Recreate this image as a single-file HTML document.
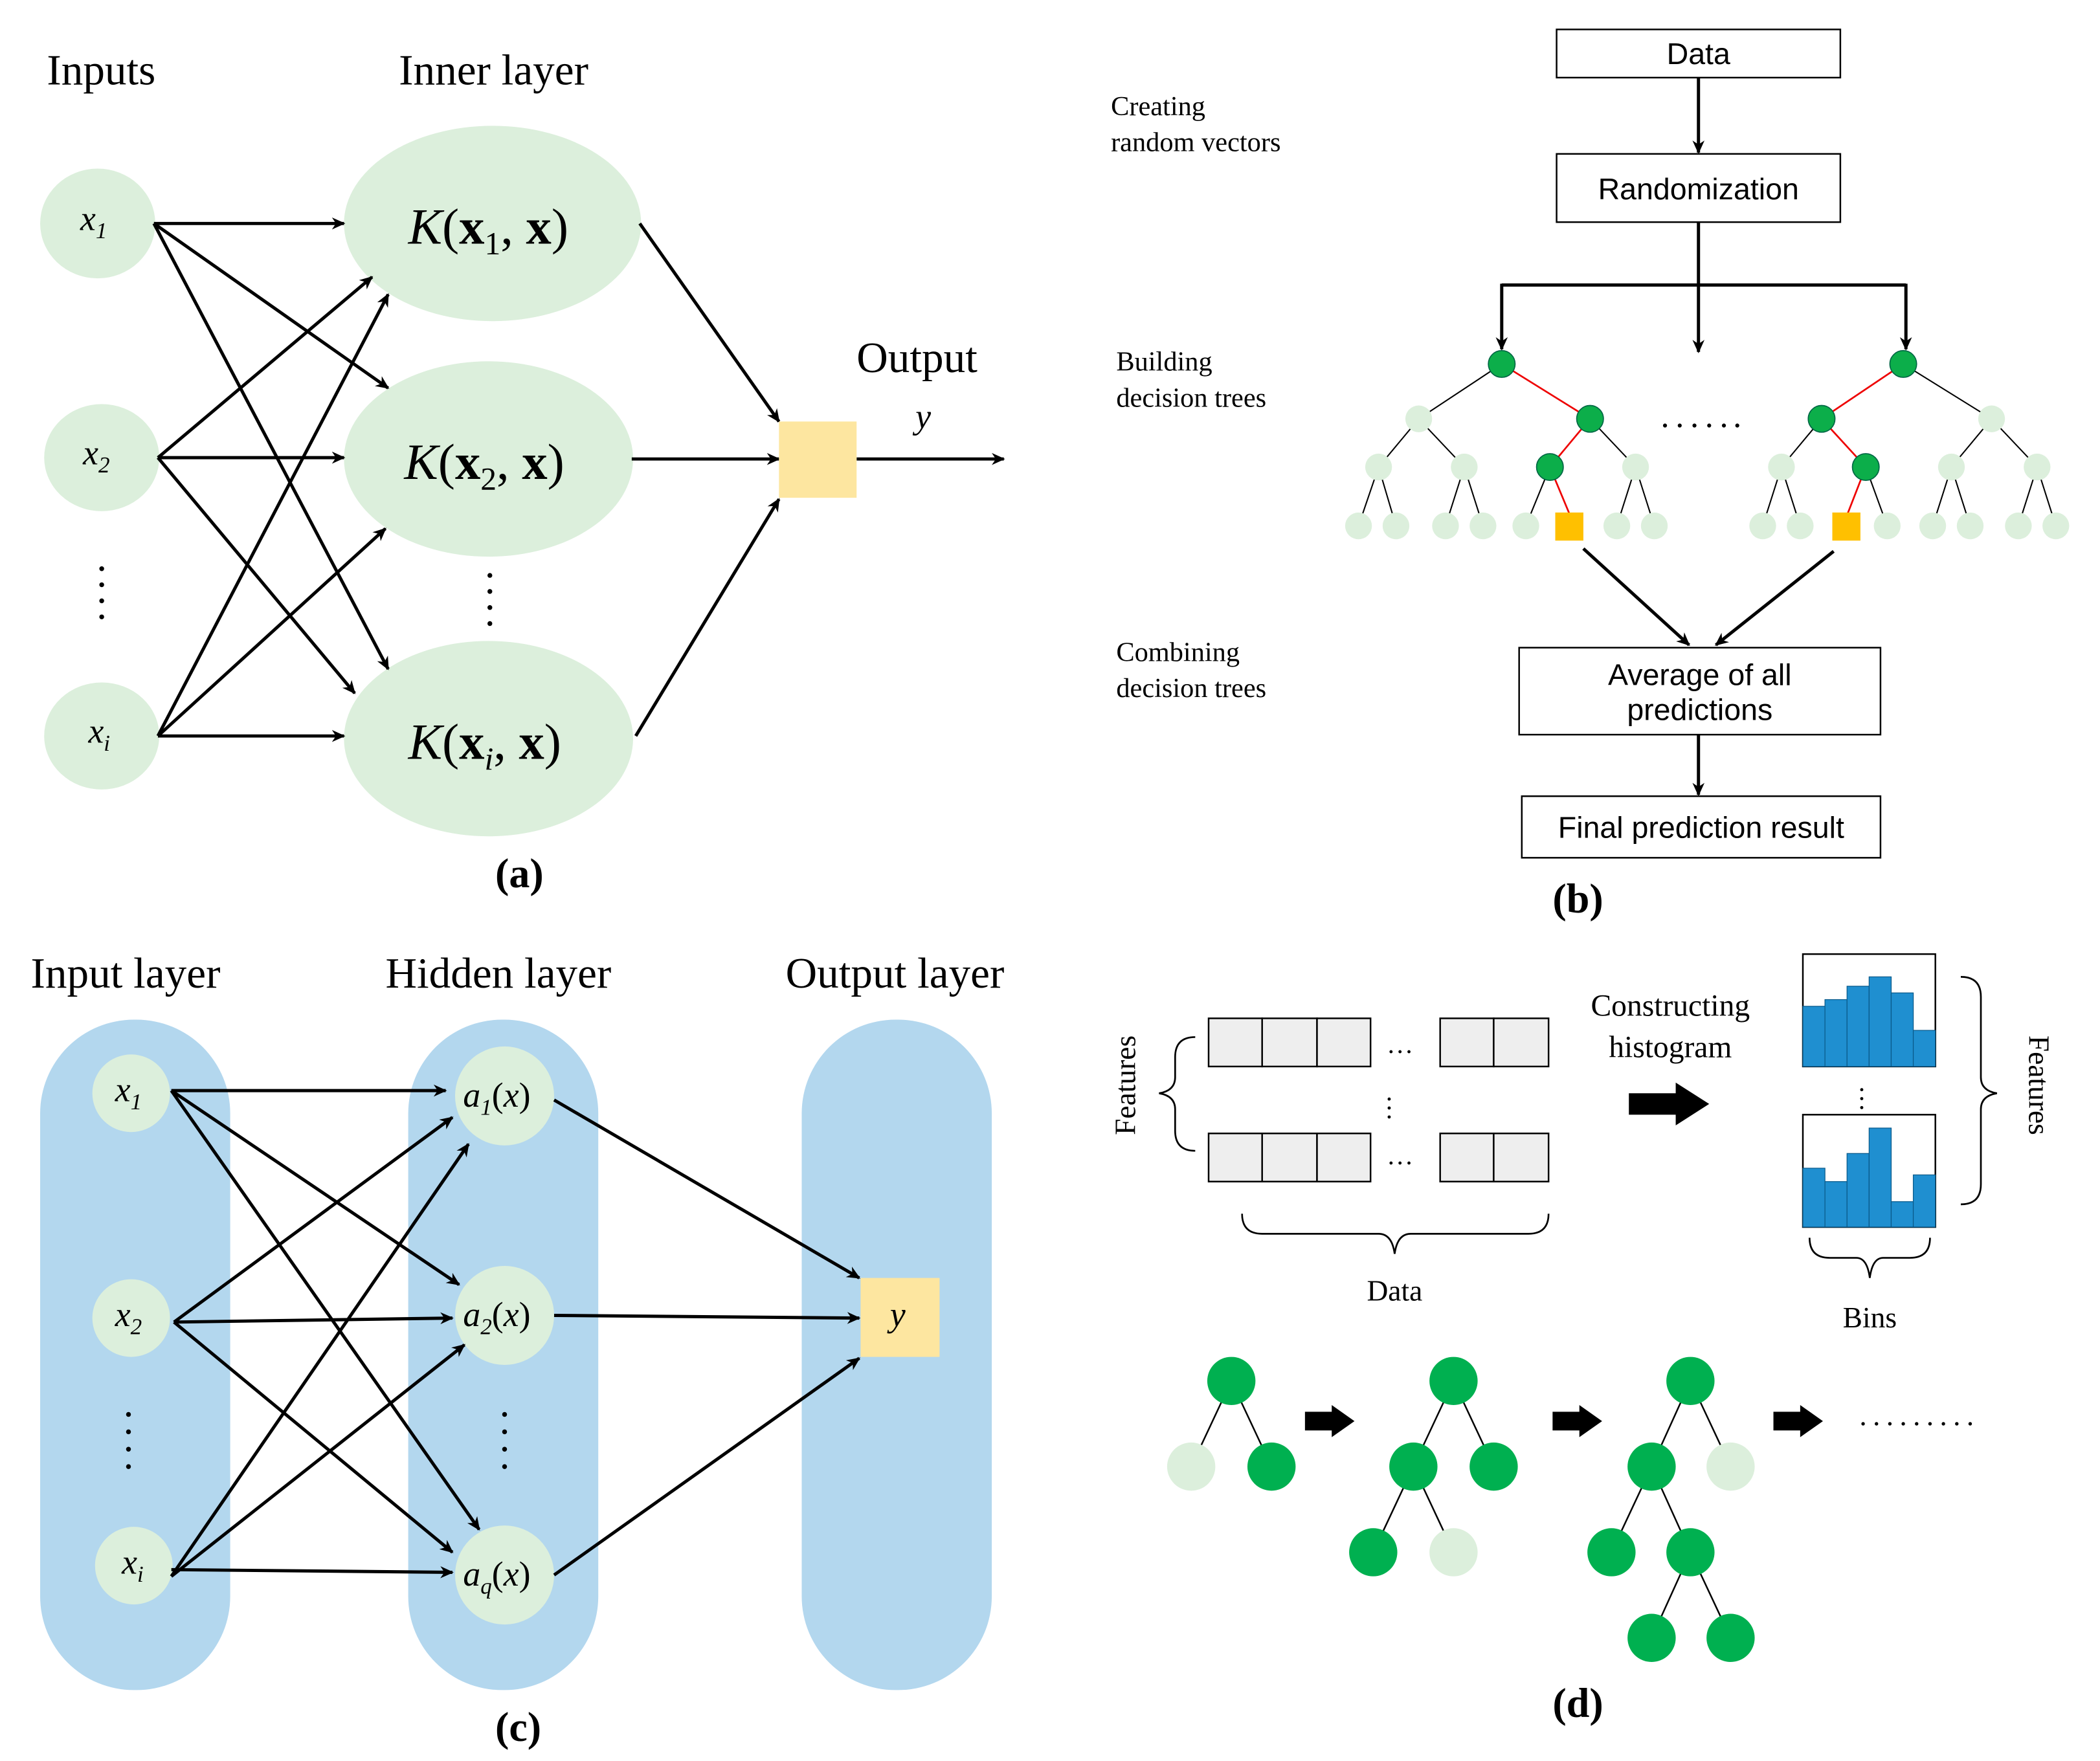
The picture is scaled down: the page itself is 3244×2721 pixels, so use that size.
<!DOCTYPE html>
<html><head><meta charset="utf-8"><style>
html,body{margin:0;padding:0;background:#fff}
svg{display:block}
text{font-family:"Liberation Serif",serif;fill:#000}
.s{font-family:"Liberation Sans","DejaVu Sans",sans-serif}
</style></head><body>
<svg width="3244" height="2721" viewBox="0 0 1569 1316" preserveAspectRatio="none" xmlns="http://www.w3.org/2000/svg">
<defs>
<marker id="ar" markerWidth="10" markerHeight="10" refX="9" refY="5" orient="auto" markerUnits="userSpaceOnUse"><path d="M0,0.5 L10,5 L0,9.5 L3,5 Z" fill="#000"/></marker>
</defs>

<!-- Panel a -->
<text x="35" y="63" font-size="32.5">Inputs</text>
<text x="298" y="63" font-size="32.5">Inner layer</text>
<g fill="#dcefdc">
<ellipse cx="73" cy="167" rx="43" ry="41"/>
<ellipse cx="76" cy="342" rx="43" ry="40"/>
<ellipse cx="76" cy="550" rx="43" ry="40"/>
<ellipse cx="368" cy="167" rx="111" ry="73"/>
<ellipse cx="365" cy="343" rx="108" ry="73"/>
<ellipse cx="365" cy="552" rx="108" ry="73"/>
</g>
<text x="60" y="172" font-size="26" font-style="italic">x<tspan font-size="17" dy="6">1</tspan></text>
<text x="62" y="347" font-size="26" font-style="italic">x<tspan font-size="17" dy="6">2</tspan></text>
<text x="66" y="555" font-size="26" font-style="italic">x<tspan font-size="17" dy="6">i</tspan></text>
<text x="305" y="182" font-size="38"><tspan font-style="italic">K</tspan>(<tspan font-weight="bold">x</tspan><tspan font-size="24" dy="8">1</tspan><tspan dy="-8">, </tspan><tspan font-weight="bold">x</tspan>)</text>
<text x="302" y="358" font-size="38"><tspan font-style="italic">K</tspan>(<tspan font-weight="bold">x</tspan><tspan font-size="24" dy="8">2</tspan><tspan dy="-8">, </tspan><tspan font-weight="bold">x</tspan>)</text>
<text x="305" y="567" font-size="38"><tspan font-style="italic">K</tspan>(<tspan font-weight="bold">x</tspan><tspan font-size="24" dy="8" font-style="italic">i</tspan><tspan dy="-8">, </tspan><tspan font-weight="bold">x</tspan>)</text>
<g fill="#000">
<circle cx="76" cy="425" r="1.8"/><circle cx="76" cy="437" r="1.8"/><circle cx="76" cy="449" r="1.8"/><circle cx="76" cy="461" r="1.8"/>
<circle cx="366" cy="430" r="1.8"/><circle cx="366" cy="442" r="1.8"/><circle cx="366" cy="454" r="1.8"/><circle cx="366" cy="466" r="1.8"/>
</g>
<g stroke="#000" stroke-width="2.4" marker-end="url(#ar)" fill="none">
<line x1="115" y1="167" x2="257" y2="167"/>
<line x1="115" y1="167" x2="290" y2="290"/>
<line x1="115" y1="167" x2="290" y2="500"/>
<line x1="118" y1="342" x2="278" y2="207"/>
<line x1="118" y1="342" x2="257" y2="342"/>
<line x1="118" y1="342" x2="265" y2="518"/>
<line x1="118" y1="550" x2="290" y2="220"/>
<line x1="118" y1="550" x2="288" y2="395"/>
<line x1="118" y1="550" x2="257" y2="550"/>
<line x1="478" y1="167" x2="582" y2="315"/>
<line x1="472" y1="343" x2="582" y2="343"/>
<line x1="475" y1="550" x2="582" y2="373"/>
<line x1="640" y1="343" x2="750" y2="343"/>
</g>
<rect x="582" y="315" width="58" height="57" fill="#fde6a0"/>
<text x="640" y="278" font-size="32.5">Output</text>
<text x="684" y="320" font-size="26" font-style="italic">y</text>
<text x="370" y="663" font-size="31" font-weight="bold">(a)</text>

<!-- Panel b -->
<g font-size="20.5">
<text x="830" y="86">Creating</text><text x="830" y="113">random vectors</text>
<text x="834" y="277">Building</text><text x="834" y="304">decision trees</text>
<text x="834" y="494">Combining</text><text x="834" y="521">decision trees</text>
</g>
<g fill="#fff" stroke="#000" stroke-width="1.2">
<rect x="1163" y="22" width="212" height="36"/>
<rect x="1163" y="115" width="212" height="51"/>
<rect x="1135" y="484" width="270" height="65"/>
<rect x="1137" y="595" width="268" height="46"/>
</g>
<g font-size="22.5" text-anchor="middle">
<text class="s" x="1269" y="48">Data</text>
<text class="s" x="1269" y="149">Randomization</text>
<text class="s" x="1270" y="512">Average of all</text>
<text class="s" x="1270" y="538">predictions</text>
<text class="s" x="1271" y="626">Final prediction result</text>
</g>
<g stroke="#000" stroke-width="2.4" fill="none">
<line x1="1269" y1="58" x2="1269" y2="114" marker-end="url(#ar)"/>
<polyline points="1269,166 1269,213"/>
<polyline points="1122,213 1424,213"/>
<polyline points="1122,212 1122,261" marker-end="url(#ar)"/>
<polyline points="1269,213 1269,263" marker-end="url(#ar)"/>
<polyline points="1424,212 1424,261" marker-end="url(#ar)"/>
<line x1="1183" y1="410" x2="1262" y2="482" marker-end="url(#ar)"/>
<line x1="1370" y1="412" x2="1282" y2="482" marker-end="url(#ar)"/>
<line x1="1269" y1="549" x2="1269" y2="594" marker-end="url(#ar)"/>
</g>
<g stroke="#000" stroke-width="1">
<line x1="1122" y1="272" x2="1060" y2="313"/>
<line x1="1060" y1="313" x2="1030" y2="349"/><line x1="1060" y1="313" x2="1094" y2="349"/>
<line x1="1188" y1="313" x2="1222" y2="349"/>
<line x1="1030" y1="349" x2="1015" y2="393"/><line x1="1030" y1="349" x2="1043" y2="393"/>
<line x1="1094" y1="349" x2="1080" y2="393"/><line x1="1094" y1="349" x2="1108" y2="393"/>
<line x1="1158" y1="349" x2="1140" y2="393"/>
<line x1="1222" y1="349" x2="1208" y2="393"/><line x1="1222" y1="349" x2="1236" y2="393"/>
<line x1="1422" y1="272" x2="1488" y2="313"/>
<line x1="1361" y1="313" x2="1331" y2="349"/>
<line x1="1488" y1="313" x2="1458" y2="349"/><line x1="1488" y1="313" x2="1522" y2="349"/>
<line x1="1331" y1="349" x2="1317" y2="393"/><line x1="1331" y1="349" x2="1345" y2="393"/>
<line x1="1394" y1="349" x2="1410" y2="393"/>
<line x1="1458" y1="349" x2="1444" y2="393"/><line x1="1458" y1="349" x2="1472" y2="393"/>
<line x1="1522" y1="349" x2="1508" y2="393"/><line x1="1522" y1="349" x2="1536" y2="393"/>
</g>
<g stroke="#e00" stroke-width="1.3">
<line x1="1122" y1="272" x2="1188" y2="313"/><line x1="1188" y1="313" x2="1158" y2="349"/><line x1="1158" y1="349" x2="1173" y2="385"/>
<line x1="1422" y1="272" x2="1361" y2="313"/><line x1="1361" y1="313" x2="1394" y2="349"/><line x1="1394" y1="349" x2="1380" y2="385"/>
</g>
<g fill="#dcefdc">
<circle cx="1060" cy="313" r="10"/><circle cx="1030" cy="349" r="10"/><circle cx="1094" cy="349" r="10"/><circle cx="1222" cy="349" r="10"/>
<circle cx="1015" cy="393" r="10"/><circle cx="1043" cy="393" r="10"/><circle cx="1080" cy="393" r="10"/><circle cx="1108" cy="393" r="10"/>
<circle cx="1140" cy="393" r="10"/><circle cx="1208" cy="393" r="10"/><circle cx="1236" cy="393" r="10"/>
<circle cx="1488" cy="313" r="10"/><circle cx="1331" cy="349" r="10"/><circle cx="1458" cy="349" r="10"/><circle cx="1522" cy="349" r="10"/>
<circle cx="1317" cy="393" r="10"/><circle cx="1345" cy="393" r="10"/><circle cx="1410" cy="393" r="10"/>
<circle cx="1444" cy="393" r="10"/><circle cx="1472" cy="393" r="10"/><circle cx="1508" cy="393" r="10"/><circle cx="1536" cy="393" r="10"/>
</g>
<g fill="#0cae4a" stroke="#064" stroke-width="0.8">
<circle cx="1122" cy="272" r="10"/><circle cx="1188" cy="313" r="10"/><circle cx="1158" cy="349" r="10"/>
<circle cx="1422" cy="272" r="10"/><circle cx="1361" cy="313" r="10"/><circle cx="1394" cy="349" r="10"/>
</g>
<rect x="1162" y="383" width="21" height="21" fill="#ffc000"/>
<rect x="1369" y="383" width="21" height="21" fill="#ffc000"/>
<g fill="#000"><circle cx="1244" cy="318" r="1.5"/><circle cx="1255" cy="318" r="1.5"/><circle cx="1266" cy="318" r="1.5"/><circle cx="1277" cy="318" r="1.5"/><circle cx="1288" cy="318" r="1.5"/><circle cx="1298" cy="318" r="1.5"/></g>
<text x="1160" y="682" font-size="31" font-weight="bold">(b)</text>

<!-- Panel c -->
<g fill="#b3d7ee">
<rect x="30" y="762" width="142" height="501" rx="70"/>
<rect x="305" y="762" width="142" height="501" rx="70"/>
<rect x="599" y="762" width="142" height="501" rx="70"/>
</g>
<g font-size="32.5">
<text x="23" y="738">Input layer</text><text x="288" y="738">Hidden layer</text><text x="587" y="738">Output layer</text>
</g>
<g fill="#dcefdc">
<circle cx="98" cy="817" r="29"/><circle cx="98" cy="985" r="29"/><circle cx="100" cy="1170" r="29"/>
<circle cx="377" cy="819" r="37"/><circle cx="377" cy="983" r="37"/><circle cx="377" cy="1177" r="37"/>
</g>
<rect x="643" y="955" width="59" height="59" fill="#fde6a0"/>
<g font-size="26" font-style="italic">
<text x="86" y="823">x<tspan font-size="17" dy="6">1</tspan></text>
<text x="86" y="991">x<tspan font-size="17" dy="6">2</tspan></text>
<text x="91" y="1176">x<tspan font-size="17" dy="6">i</tspan></text>
<text x="346" y="827">a<tspan font-size="17" dy="6">1</tspan><tspan dy="-6" font-style="normal">(</tspan>x<tspan font-style="normal">)</tspan></text>
<text x="346" y="991">a<tspan font-size="17" dy="6">2</tspan><tspan dy="-6" font-style="normal">(</tspan>x<tspan font-style="normal">)</tspan></text>
<text x="346" y="1185">a<tspan font-size="17" dy="6">q</tspan><tspan dy="-6" font-style="normal">(</tspan>x<tspan font-style="normal">)</tspan></text>
<text x="665" y="991">y</text>
</g>
<g fill="#000">
<circle cx="96" cy="1057" r="1.8"/><circle cx="96" cy="1070" r="1.8"/><circle cx="96" cy="1083" r="1.8"/><circle cx="96" cy="1096" r="1.8"/>
<circle cx="377" cy="1057" r="1.8"/><circle cx="377" cy="1070" r="1.8"/><circle cx="377" cy="1083" r="1.8"/><circle cx="377" cy="1096" r="1.8"/>
</g>
<g stroke="#000" stroke-width="2.4" marker-end="url(#ar)" fill="none">
<line x1="128" y1="815" x2="333" y2="815"/>
<line x1="128" y1="815" x2="343" y2="960"/>
<line x1="128" y1="815" x2="358" y2="1143"/>
<line x1="130" y1="988" x2="338" y2="835"/>
<line x1="130" y1="988" x2="338" y2="985"/>
<line x1="130" y1="988" x2="338" y2="1160"/>
<line x1="128" y1="1178" x2="350" y2="855"/>
<line x1="128" y1="1178" x2="347" y2="1005"/>
<line x1="128" y1="1173" x2="338" y2="1175"/>
<line x1="414" y1="822" x2="642" y2="955"/>
<line x1="414" y1="983" x2="642" y2="985"/>
<line x1="414" y1="1177" x2="642" y2="1015"/>
</g>
<text x="370" y="1301" font-size="31" font-weight="bold">(c)</text>

<!-- Panel d -->
<g fill="#eee" stroke="#000" stroke-width="1.2">
<rect x="903" y="761" width="40" height="36"/><rect x="943" y="761" width="41" height="36"/><rect x="984" y="761" width="40" height="36"/>
<rect x="1076" y="761" width="40" height="36"/><rect x="1116" y="761" width="41" height="36"/>
<rect x="903" y="847" width="40" height="36"/><rect x="943" y="847" width="41" height="36"/><rect x="984" y="847" width="40" height="36"/>
<rect x="1076" y="847" width="40" height="36"/><rect x="1116" y="847" width="41" height="36"/>
</g>
<g font-size="20">
<text x="1036" y="787">…</text><text x="1036" y="870">…</text>
<text x="1041" y="830" transform="rotate(90 1045 822)">…</text>
<text x="1390" y="825" transform="rotate(90 1397 818)">…</text>
</g>
<g stroke="#000" stroke-width="1.3" fill="none">
<path d="M893,775 Q878,775 878,790 L878,805 Q878,815 866,817 Q878,819 878,829 L878,845 Q878,860 893,860"/>
<path d="M928,907 Q928,922 943,922 L1030,922 Q1040,922 1042,937 Q1044,922 1054,922 L1142,922 Q1157,922 1157,907"/>
<path d="M1465,730 Q1480,730 1480,745 L1480,805 Q1480,815 1492,817 Q1480,819 1480,829 L1480,885 Q1480,900 1465,900"/>
<path d="M1352,925 Q1352,940 1367,940 L1387,940 Q1395,940 1397,955 Q1399,940 1407,940 L1427,940 Q1442,940 1442,925"/>
</g>
<text x="852" y="815" font-size="22" text-anchor="middle" transform="rotate(-90 848 815)">Features</text>
<text x="1512" y="815" font-size="22" text-anchor="middle" transform="rotate(90 1516 815)">Features</text>
<text x="1042" y="972" font-size="22" text-anchor="middle">Data</text>
<text x="1397" y="992" font-size="22" text-anchor="middle">Bins</text>
<text x="1248" y="759" font-size="23" text-anchor="middle">Constructing</text>
<text x="1248" y="790" font-size="23" text-anchor="middle">histogram</text>
<path d="M1217,817 L1252,817 L1252,809 L1277,825 L1252,841 L1252,833 L1217,833 Z" fill="#000"/>
<rect x="1347" y="713" width="99" height="84" fill="#fff" stroke="#000" stroke-width="1.2"/>
<rect x="1347" y="833" width="99" height="84" fill="#fff" stroke="#000" stroke-width="1.2"/>
<g fill="#1f8fd0" stroke="#0a5a8a" stroke-width="0.6">
<rect x="1347" y="752" width="16.5" height="45"/><rect x="1363.5" y="747" width="16.5" height="50"/><rect x="1380" y="737" width="16.5" height="60"/>
<rect x="1396.5" y="730" width="16.5" height="67"/><rect x="1413" y="742" width="16.5" height="55"/><rect x="1429.5" y="770" width="16.5" height="27"/>
<rect x="1347" y="873" width="16.5" height="44"/><rect x="1363.5" y="883" width="16.5" height="34"/><rect x="1380" y="862" width="16.5" height="55"/>
<rect x="1396.5" y="843" width="16.5" height="74"/><rect x="1413" y="898" width="16.5" height="19"/><rect x="1429.5" y="878" width="16.5" height="39"/>
</g>
<g stroke="#000" stroke-width="1.2">
<line x1="920" y1="1032" x2="890" y2="1096"/><line x1="920" y1="1032" x2="950" y2="1096"/>
<line x1="1086" y1="1032" x2="1056" y2="1096"/><line x1="1086" y1="1032" x2="1116" y2="1096"/>
<line x1="1056" y1="1096" x2="1026" y2="1160"/><line x1="1056" y1="1096" x2="1086" y2="1160"/>
<line x1="1263" y1="1032" x2="1234" y2="1096"/><line x1="1263" y1="1032" x2="1293" y2="1096"/>
<line x1="1234" y1="1096" x2="1204" y2="1160"/><line x1="1234" y1="1096" x2="1263" y2="1160"/>
<line x1="1263" y1="1160" x2="1234" y2="1224"/><line x1="1263" y1="1160" x2="1293" y2="1224"/>
</g>
<g fill="#dcefdc"><circle cx="890" cy="1096" r="18"/><circle cx="1086" cy="1160" r="18"/><circle cx="1293" cy="1096" r="18"/></g>
<g fill="#00b050">
<circle cx="920" cy="1032" r="18"/><circle cx="950" cy="1096" r="18"/>
<circle cx="1086" cy="1032" r="18"/><circle cx="1056" cy="1096" r="18"/><circle cx="1116" cy="1096" r="18"/><circle cx="1026" cy="1160" r="18"/>
<circle cx="1263" cy="1032" r="18"/><circle cx="1234" cy="1096" r="18"/><circle cx="1204" cy="1160" r="18"/><circle cx="1263" cy="1160" r="18"/><circle cx="1234" cy="1224" r="18"/><circle cx="1293" cy="1224" r="18"/>
</g>
<g fill="#000">
<path d="M975,1055 L995,1055 L995,1050 L1012,1062 L995,1074 L995,1069 L975,1069 Z"/>
<path d="M1160,1055 L1180,1055 L1180,1050 L1197,1062 L1180,1074 L1180,1069 L1160,1069 Z"/>
<path d="M1325,1055 L1345,1055 L1345,1050 L1362,1062 L1345,1074 L1345,1069 L1325,1069 Z"/>
<circle cx="1392" cy="1064" r="1.3"/><circle cx="1402" cy="1064" r="1.3"/><circle cx="1412" cy="1064" r="1.3"/><circle cx="1422" cy="1064" r="1.3"/><circle cx="1432" cy="1064" r="1.3"/><circle cx="1442" cy="1064" r="1.3"/><circle cx="1452" cy="1064" r="1.3"/><circle cx="1462" cy="1064" r="1.3"/><circle cx="1472" cy="1064" r="1.3"/>
</g>
<text x="1160" y="1283" font-size="31" font-weight="bold">(d)</text>
</svg>
</body></html>
